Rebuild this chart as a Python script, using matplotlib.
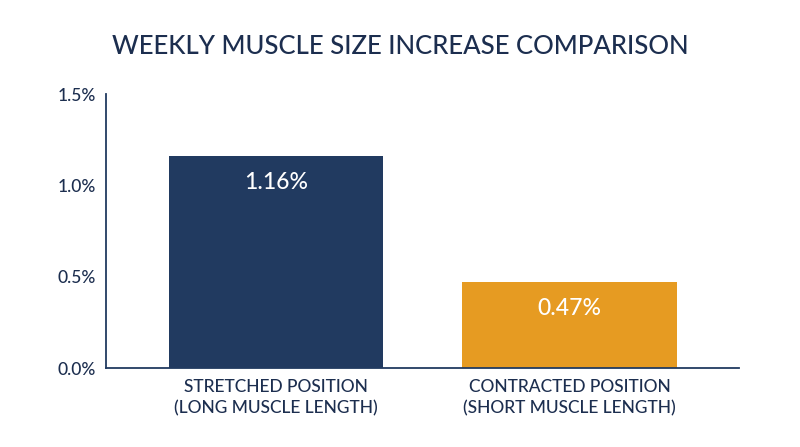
import matplotlib.pyplot as plt

# 데이터
categories = ['STRETCHED POSITION\n(LONG MUSCLE LENGTH)', 'CONTRACTED POSITION\n(SHORT MUSCLE LENGTH)']
values = [1.16, 0.47]
value_labels = ['1.16%', '0.47%']
yticks = [0.0, 0.5, 1.0, 1.5]
ytick_labels = ['0.0%', '0.5%', '1.0%', '1.5%']

navy = '#213a60'
orange = '#e69b22'
text_color = '#1c2e4f'

plt.rcParams['font.family'] = ['Lato', 'DejaVu Sans']

fig = plt.figure(figsize=(8, 4.47), dpi=100)
ax = fig.add_axes([0.1325, 0.1767, 0.79125, 0.613])

x = range(len(values))
bars = ax.bar(x, values, width=0.73, color=[navy, orange])

# 막대 안 값 표시
for xi, v, lab in zip(x, values, value_labels):
    ax.annotate(lab, (xi, v), xytext=(0, -19), textcoords='offset points',
                ha='center', va='center', color='white', fontsize=16.5, fontweight='medium')

ax.set_xlim(-0.58, 1.578)
ax.set_ylim(0, 1.5)
ax.set_yticks(yticks)
ax.set_yticklabels(ytick_labels)
ax.set_xticks(list(x))
ax.set_xticklabels(categories, linespacing=1.35)
ax.tick_params(axis='both', length=0, colors=text_color, labelsize=12.5)
ax.tick_params(axis='y', pad=7)
ax.tick_params(axis='x', pad=8)
for t in ax.get_xticklabels() + ax.get_yticklabels():
    t.set_fontweight('medium')

for s in ['top', 'right']:
    ax.spines[s].set_visible(False)
for s in ['left', 'bottom']:
    ax.spines[s].set_color(navy)
    ax.spines[s].set_linewidth(1.3)

fig.text(0.5, 0.895, 'WEEKLY MUSCLE SIZE INCREASE COMPARISON', ha='center', va='center',
         color=text_color, fontsize=18.5, fontweight='medium')

fig.savefig('out.png', dpi=100)
